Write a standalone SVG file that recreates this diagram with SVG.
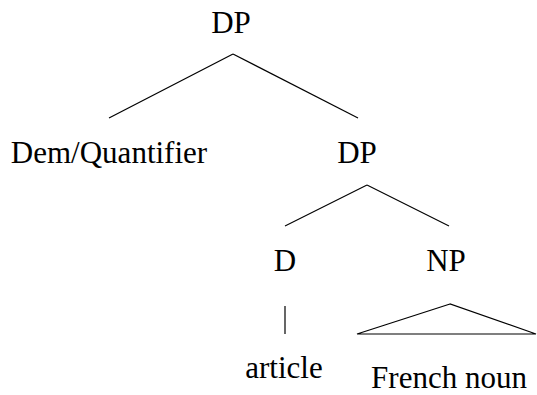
<svg xmlns="http://www.w3.org/2000/svg" width="537" height="395" viewBox="0 0 537 395">
  <style>
    .lbl { font-family: "Liberation Serif", "Times New Roman", serif; font-size: 31px; fill: #000; text-anchor: middle; }
    .edge { stroke: #000; stroke-width: 1.2; fill: none; }
  </style>
  <rect width="537" height="395" fill="#fff"/>
  <g id="connectors">
    <line class="edge" x1="233" y1="54" x2="109" y2="118"/>
    <line class="edge" x1="233" y1="54" x2="358" y2="118"/>
    <line class="edge" x1="367" y1="185" x2="285" y2="226"/>
    <line class="edge" x1="367" y1="185" x2="449" y2="226"/>
    <line class="edge" x1="285" y1="306" x2="285" y2="334"/>
    <polygon class="edge" points="450,304 357,334 536,334"/>
  </g>
  <g id="dp-root"><text class="lbl" x="231" y="33">DP</text></g>
  <g id="dem-quantifier"><text class="lbl" x="109" y="163">Dem/Quantifier</text></g>
  <g id="dp-inner"><text class="lbl" x="357" y="163">DP</text></g>
  <g id="d"><text class="lbl" x="285" y="271">D</text></g>
  <g id="np"><text class="lbl" x="446" y="271">NP</text></g>
  <g id="article"><text class="lbl" x="284" y="378">article</text></g>
  <g id="french-noun"><text class="lbl" x="449" y="388">French noun</text></g>
</svg>
